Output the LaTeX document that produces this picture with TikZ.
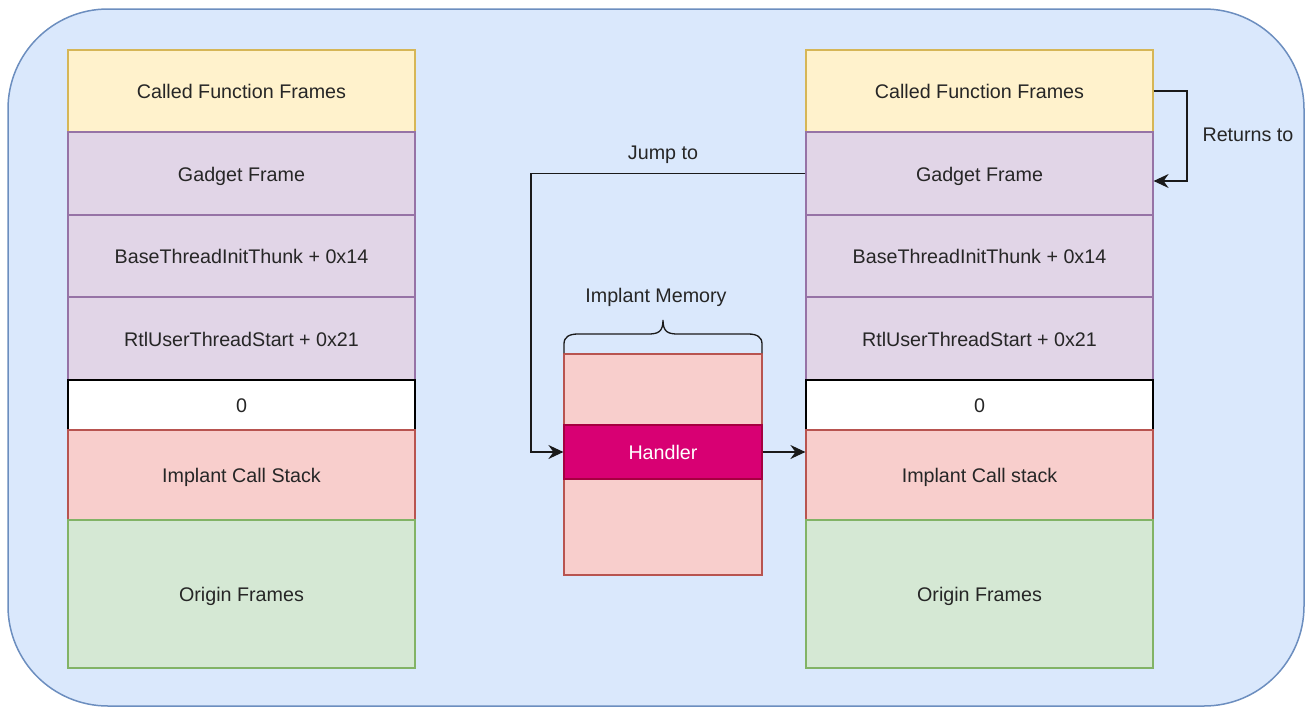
\documentclass[tikz,border=0pt]{standalone}
\usepackage{fontspec}
\setmainfont{Liberation Sans}
\usetikzlibrary{arrows.meta,calc}
\definecolor{bgfill}{HTML}{DAE8FC}
\definecolor{bgline}{HTML}{6C8EBF}
\definecolor{yfill}{HTML}{FFF2CC}
\definecolor{yline}{HTML}{D6B656}
\definecolor{pfill}{HTML}{E1D5E7}
\definecolor{pline}{HTML}{9673A6}
\definecolor{rfill}{HTML}{F8CECC}
\definecolor{rline}{HTML}{B85450}
\definecolor{gfill}{HTML}{D5E8D4}
\definecolor{gline}{HTML}{82B366}
\definecolor{hfill}{HTML}{D80073}
\definecolor{hline}{HTML}{A50040}
\definecolor{ink}{HTML}{262626}
\definecolor{wire}{HTML}{1A1A1A}
\begin{document}
\begin{tikzpicture}[x=1pt,y=-1pt,
  font=\fontsize{19.7}{23}\selectfont,
  every node/.style={text=ink},
  frame/.style={draw, rectangle, inner sep=0pt, line width=1.2pt,
    minimum width=347pt, text depth=0pt, text height=15pt},
  called/.style={frame, fill=yfill, draw=yline},
  sysframe/.style={frame, fill=pfill, draw=pline},
  zero/.style={frame, fill=white, draw=black},
  implant/.style={frame, fill=rfill, draw=rline},
  origin/.style={frame, fill=gfill, draw=gline},
  conn/.style={draw=wire, line width=1.3pt, -{Stealth[length=15pt,width=14pt,inset=5pt]}},
  lbl/.style={inner sep=0pt, text depth=0pt, text height=15pt}]

\useasboundingbox (0,0) rectangle (1307,707);
% outer container
\draw[fill=bgfill, draw=bgline, line width=1.5pt, rounded corners=100pt]
  (8,9) rectangle (1304,706);

% left stack
\node[called, minimum height=82pt] (lcall) at (241.5,91) {Called Function Frames};
\node[sysframe, minimum height=83pt] (lgad) at (241.5,173.5) {Gadget Frame};
\node[sysframe, minimum height=82pt] (lbase) at (241.5,256) {BaseThreadInitThunk + 0x14};
\node[sysframe, minimum height=83pt] (lrtl) at (241.5,338.5) {RtlUserThreadStart + 0x21};
\node[zero, minimum height=50pt] (lzero) at (241.5,405) {0};
\node[implant, minimum height=90pt] (lic) at (241.5,475) {Implant Call Stack};
\node[origin, minimum height=148pt] (lorig) at (241.5,594) {Origin Frames};

% right stack
\node[called, minimum height=82pt] (rcall) at (979.5,91) {Called Function Frames};
\node[sysframe, minimum height=83pt] (rgad) at (979.5,173.5) {Gadget Frame};
\node[sysframe, minimum height=82pt] (rbase) at (979.5,256) {BaseThreadInitThunk + 0x14};
\node[sysframe, minimum height=83pt] (rrtl) at (979.5,338.5) {RtlUserThreadStart + 0x21};
\node[zero, minimum height=50pt] (rzero) at (979.5,405) {0};
\node[implant, minimum height=90pt] (ric) at (979.5,475) {Implant Call stack};
\node[origin, minimum height=148pt] (rorig) at (979.5,594) {Origin Frames};

% implant memory region with handler
\node[draw=rline, fill=rfill, line width=1.2pt, inner sep=0pt,
  minimum width=198pt, minimum height=221pt] (mem) at (663,464.5) {};
\node[draw=hline, fill=hfill, line width=1.2pt, inner sep=0pt,
  minimum width=198pt, minimum height=54pt, text depth=0pt, text height=15pt,
  text=white] (handler) at (663,452) {Handler};

% brace over the memory region
\draw[wire, line width=1.3pt]
  (564,353) -- (564,344) .. controls (564,337) and (569,334) .. (578,334)
  -- (648,334) .. controls (658,334) and (663,332) .. (663,320)
  .. controls (663,332) and (668,334) .. (678,334)
  -- (748,334) .. controls (757,334) and (762,337) .. (762,344) -- (762,353);
\node[lbl] (memlbl) at (656,295) {Implant Memory};

% connectors
\coordinate (jmp) at (531,173.5);
\draw[conn] (rgad.west) -- (jmp) |- (handler.west);
\node[lbl] (jmplbl) at (663,152) {Jump to};

\draw[conn] (handler.east) -- (handler.east -| ric.west);

\coordinate (ret) at (1187,91);
\draw[conn] (rcall.east) -- (ret) |- ([yshift=-7.5pt]rgad.east);
\node[lbl] (retlbl) at (1248,134) {Returns to};
\end{tikzpicture}
\end{document}
